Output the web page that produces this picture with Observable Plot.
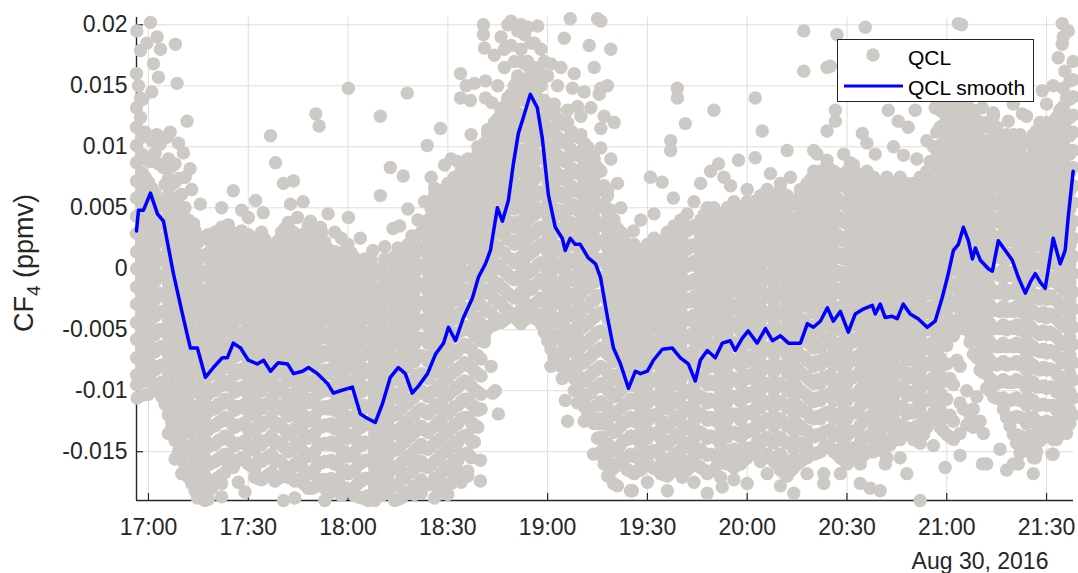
<!DOCTYPE html>
<html>
<head>
<meta charset="utf-8">
<script src="https://cdn.jsdelivr.net/npm/d3@7"></script>
<script src="https://cdn.jsdelivr.net/npm/@observablehq/plot@0.6"></script>
<style>
  html, body { margin: 0; padding: 0; background: #fff; }
  #chart { width: 1078px; height: 573px; }
</style>
</head>
<body>
<div id="chart"></div>
<script>
// CF4 mixing ratio from the QCL instrument, Aug 30, 2016 (values in 0.001 ppmv units)
const dayLabel = "Aug 30, 2016";
const xTickLabels = ["17:00", "17:30", "18:00", "18:30", "19:00", "19:30", "20:00", "20:30", "21:00", "21:30"];
const yTicks = [-0.015, -0.01, -0.005, 0, 0.005, 0.01, 0.015, 0.02];
const timeWindowMinutes = [-3.6, 278.1];   // minutes after 17:00
const valueWindow = [-0.019, 0.0206];       // ppmv

// QCL samples, grouped by minute after 17:00: "minute: v1 v2 ..." (0.001 ppmv)
const qclColumns = [
  "-3.6: 11.6 10.1 8.7 7.2 5.8 4.3 2.9 1.4 0 -1.5 -2.9 -4.4 -5.8 -7.3 -8.7 -9.5",
  "-2: 10.8 9.4 7.9 6.5 5 3.6 2.1 0.7 -0.8 -2.2 -3.7 -5.1 -6.6 -8 -9.3",
  "0: 7.1 5.6 4.2 2.7 1.3 -0.2 -1.6 -3.1 -4.5 -6 -7.4 -8.9",
  "2: 6.2 4.8 3.3 1.9 0.4 -1 -2.5 -3.9 -5.4 -6.8 -8.3 -9.6",
  "4: 5.2 3.7 2.3 0.8 -0.6 -2.1 -3.5 -5 -6.4 -7.9 -9.3 -10.5",
  "6: 9 7.4 6 4.5 3.1 1.6 0.2 -1.3 -2.7 -4.2 -5.6 -7.1 -8.5 -10 -11.4 -12",
  "8: 8.6 7.1 5.3 3.9 2.4 1 -0.5 -1.9 -3.4 -4.8 -6.3 -7.7 -9.2 -10.6 -12.1 -13.5 -14.1",
  "10: 6.1 4.6 3.2 1.7 0.3 -1.2 -2.6 -4.1 -5.5 -7 -8.4 -9.9 -11.3 -12.8 -14.2 -15.5",
  "12: 4 2.5 1.1 -0.4 -1.8 -3.3 -4.7 -6.2 -7.6 -9.1 -10.5 -12 -13.4 -14.9 -16.3 -17.1",
  "14: 3.1 1.8 0.3 -1.1 -2.6 -4 -5.5 -6.9 -8.4 -9.8 -11.3 -12.7 -14.2 -15.6 -17.1 -18.2",
  "16: 2.6 1.1 -0.3 -1.8 -3.2 -4.7 -6.1 -7.6 -9 -10.5 -11.9 -13.4 -14.8 -16.3 -17.7 -18.6",
  "18: 2.8 1.3 -0.1 -1.6 -3 -4.5 -5.9 -7.4 -8.8 -10.3 -11.7 -13.2 -14.6 -16.1 -17.5 -18.9",
  "20: 3 1.6 0.1 -1.3 -2.8 -4.2 -5.7 -7.1 -8.6 -10 -11.5 -12.9 -14.4 -15.8 -17.3",
  "22: 3.4 2 0.5 -0.9 -2.4 -3.8 -5.3 -6.7 -8.2 -9.6 -11.1 -12.5 -14 -15.4 -16.9 -17.6",
  "24: 3.6 2.1 0.7 -0.8 -2.2 -3.7 -5.1 -6.6 -8 -9.5 -10.9 -12.4 -13.8 -15.3 -16.1",
  "26: 2.9 1.5 0 -1.4 -2.9 -4.3 -5.8 -7.2 -8.7 -10.1 -11.6 -13 -14.5 -15.9",
  "28: 3.1 1.7 0.2 -1.2 -2.7 -4.1 -5.6 -7 -8.5 -9.9 -11.4 -12.8 -14.3 -15.5",
  "30: 2.8 1.3 -0.1 -1.6 -3 -4.5 -5.9 -7.4 -8.8 -10.3 -11.7 -13.2 -14.6 -16",
  "32: 2.5 1 -0.4 -1.9 -3.3 -4.8 -6.2 -7.7 -9.1 -10.6 -12 -13.5 -14.9 -16.4 -17.1",
  "34: 3 1.6 0.1 -1.3 -2.8 -4.2 -5.7 -7.1 -8.6 -10 -11.5 -12.9 -14.4 -15.8 -17.3",
  "36: 2 0.5 -0.9 -2.4 -3.8 -5.3 -6.7 -8.2 -9.6 -11.1 -12.5 -14 -15.4 -16.9",
  "38: 1.6 0.2 -1.3 -2.7 -4.2 -5.6 -7.1 -8.5 -10 -11.4 -12.9 -14.3 -15.8 -17.4",
  "40: 3 1.5 0.1 -1.4 -2.8 -4.3 -5.7 -7.2 -8.6 -10.1 -11.5 -13 -14.4 -15.9 -17",
  "42: 3.8 2.4 0.9 -0.5 -2 -3.4 -4.9 -6.3 -7.8 -9.2 -10.7 -12.1 -13.6 -15 -16.5 -17.1",
  "44: 2.9 1.4 0 -1.5 -2.9 -4.4 -5.8 -7.3 -8.7 -10.2 -11.6 -13.1 -14.5 -16 -17.4",
  "46: 2.6 1.2 -0.3 -1.7 -3.2 -4.6 -6.1 -7.5 -9 -10.4 -11.9 -13.3 -14.8 -16.2 -17.5",
  "48: 3.5 2 0.6 -0.9 -2.3 -3.8 -5.2 -6.7 -8.1 -9.6 -11 -12.5 -13.9 -15.4 -16.8 -18",
  "50: 2.4 1 -0.5 -1.9 -3.4 -4.8 -6.3 -7.7 -9.2 -10.6 -12.1 -13.5 -15 -16.4 -17.9",
  "52: 3 1.5 0.1 -1.4 -2.8 -4.3 -5.7 -7.2 -8.6 -10.1 -11.5 -13 -14.4 -15.9 -17.3",
  "54: 1.6 0.1 -1.3 -2.8 -4.2 -5.7 -7.1 -8.6 -10 -11.5 -12.9 -14.4 -15.8 -17.3 -18.5",
  "56: 1.4 0 -1.5 -2.9 -4.4 -5.8 -7.3 -8.7 -10.2 -11.6 -13.1 -14.5 -16 -17.4 -18",
  "58: 1 -0.4 -1.9 -3.3 -4.8 -6.2 -7.7 -9.1 -10.6 -12 -13.5 -14.9 -16.4 -17.8 -18.6",
  "60: 2 0.6 -0.9 -2.3 -3.8 -5.2 -6.7 -8.1 -9.6 -11 -12.5 -13.9 -15.4 -16.8 -18.1",
  "62: 0.9 -0.5 -2 -3.4 -4.9 -6.3 -7.8 -9.2 -10.7 -12.1 -13.6 -15 -16.5 -17.9 -18.6",
  "64: 0 -1.4 -2.9 -4.3 -5.8 -7.2 -8.7 -10.1 -11.6 -13 -14.5 -15.9 -17.4 -18.8",
  "66: 0.2 -1.2 -2.7 -4.1 -5.6 -7 -8.5 -9.9 -11.4 -12.8 -14.3 -15.7 -17.2 -18.6 -19",
  "68: -0.5 -1.9 -3.4 -4.8 -6.3 -7.7 -9.2 -10.6 -12.1 -13.5 -15 -16.4 -17.9 -19",
  "70: 0 -1.5 -2.9 -4.4 -5.8 -7.3 -8.7 -10.2 -11.6 -13.1 -14.5 -16 -17.4 -18.6",
  "72: 0.5 -0.9 -2.4 -3.8 -5.3 -6.7 -8.2 -9.6 -11.1 -12.5 -14 -15.4 -16.9 -18.3",
  "74: 1 -0.4 -1.9 -3.3 -4.8 -6.2 -7.7 -9.1 -10.6 -12 -13.5 -14.9 -16.4 -17.8 -19",
  "76: 1.5 0.1 -1.4 -2.8 -4.3 -5.7 -7.2 -8.6 -10.1 -11.5 -13 -14.4 -15.9 -17.3 -18.8",
  "78: 2 0.6 -0.9 -2.3 -3.8 -5.2 -6.7 -8.1 -9.6 -11 -12.5 -13.9 -15.4 -16.8 -18.3",
  "80: 2.5 1.1 -0.4 -1.8 -3.3 -4.7 -6.2 -7.6 -9.1 -10.5 -12 -13.4 -14.9 -16.3 -17.8 -18.5",
  "82: 3 1.6 0.1 -1.3 -2.8 -4.2 -5.7 -7.1 -8.6 -10 -11.5 -12.9 -14.4 -15.8 -17.3 -18.4",
  "84: 4 2.6 1.1 -0.3 -1.8 -3.2 -4.7 -6.1 -7.6 -9 -10.5 -11.9 -13.4 -14.8 -16.3 -17.7",
  "86: 6 4.5 3.1 1.6 0.2 -1.3 -2.7 -4.2 -5.6 -7.1 -8.5 -10 -11.4 -12.9 -14.3 -15.8 -17.2 -18.8",
  "88: 6.4 5 3.5 2.1 0.6 -0.8 -2.3 -3.7 -5.2 -6.6 -8.1 -9.5 -11 -12.4 -13.9 -15.3 -16.8 -18",
  "90: 7 5.5 4.1 2.6 1.2 -0.3 -1.7 -3.2 -4.6 -6.1 -7.5 -9 -10.4 -11.9 -13.3 -14.8 -16.2 -17.7 -18.5",
  "92: 7.5 6.1 4.6 3.2 1.7 0.3 -1.2 -2.6 -4.1 -5.5 -7 -8.4 -9.9 -11.3 -12.8 -14.2 -15.7 -17.1",
  "94: 8 6.5 5.1 3.6 2.2 0.7 -0.7 -2.2 -3.6 -5.1 -6.5 -8 -9.4 -10.9 -12.3 -13.8 -15.2 -16.7 -17.5",
  "96: 8.1 6.7 5.2 3.8 2.3 0.9 -0.6 -2 -3.5 -4.9 -6.4 -7.8 -9.3 -10.7 -12.2 -13.6 -15.1 -16.6 -17",
  "98: 9 7.5 6.1 4.6 3.2 1.7 0.3 -1.2 -2.6 -4.1 -5.5 -7 -8.4 -9.9 -11.3 -12.8 -14.2",
  "100: 10 8.6 7.1 5.7 4.2 2.8 1.3 -0.1 -1.6 -3 -4.5 -5.9 -7.4 -8.8 -10.3 -11.5",
  "102: 11 9.6 8.1 6.7 5.2 3.8 2.3 0.9 -0.6 -2 -3.5 -4.9",
  "104: 12 10.5 9.1 7.6 6.2 4.7 3.3 1.8 0.4 -1.1 -2.5 -4 -4.6",
  "106: 13 11.6 10.1 8.7 7.2 5.8 4.3 2.9 1.4 0 -1.5 -2.9 -4.4",
  "108: 14 12.5 11.1 9.6 8.2 6.7 5.3 3.8 2.4 0.9 -0.5 -2 -3.4 -4",
  "110: 15 13.6 12.1 10.7 9.2 7.8 6.3 4.9 3.4 2 0.5 -0.9 -2.4 -3.8",
  "112: 17 15.5 14.1 12.6 11.2 9.7 8.3 6.8 5.4 3.9 2.5 1 -0.4 -1.9 -3.3 -4.5",
  "114: 17 15.6 14.1 12.7 11.2 9.8 8.3 6.9 5.4 4 2.5 1.1 -0.4 -1.8 -3.3 -4",
  "116: 16 14.5 13.1 11.6 10.2 8.7 7.3 5.8 4.4 2.9 1.5 0 -1.4 -2.9 -4",
  "118: 15 13.6 12.1 10.7 9.2 7.8 6.3 4.9 3.4 2 0.5 -0.9 -2.4 -3.8 -4.5",
  "120: 13 11.5 10.1 8.6 7.2 5.7 4.3 2.8 1.4 -0.1 -1.5 -3 -4.4 -5.9",
  "122: 13 11.6 10.1 8.7 7.2 5.8 4.3 2.9 1.4 0 -1.5 -2.9 -4.4 -5.8 -7.3",
  "124: 12 10.5 9.1 7.6 6.2 4.7 3.3 1.8 0.4 -1.1 -2.5 -4 -5.4 -6.9 -8",
  "126: 12 10.6 9.1 7.7 6.2 4.8 3.3 1.9 0.4 -1 -2.5 -3.9 -5.4 -6.8 -8",
  "128: 11 9.5 8.1 6.6 5.2 3.7 2.3 0.8 -0.6 -2.1 -3.5 -5 -6.4 -7.9 -9",
  "130: 11 9.6 8.1 6.7 5.2 3.8 2.3 0.9 -0.6 -2 -3.5 -4.9 -6.4 -7.8 -9.3 -10.8",
  "132: 10 8.5 7.1 5.6 4.2 2.7 1.3 -0.2 -1.6 -3.1 -4.5 -6 -7.4 -8.9 -10.3 -11.8",
  "134: 9 7.6 6.1 4.7 3.2 1.8 0.3 -1.1 -2.6 -4 -5.5 -6.9 -8.4 -9.8 -11.3 -12.7",
  "136: 8 6.5 5.1 3.6 2.2 0.7 -0.7 -2.2 -3.6 -5.1 -6.5 -8 -9.4 -10.9 -12.3 -13.8 -15",
  "138: 6 4.6 3.1 1.7 0.2 -1.2 -2.7 -4.1 -5.6 -7 -8.5 -9.9 -11.4 -12.8 -14.3 -15.7 -17",
  "140: 4 2.5 1.1 -0.4 -1.8 -3.3 -4.7 -6.2 -7.6 -9.1 -10.5 -12 -13.4 -14.9 -16.3",
  "142: 3 1.6 0.1 -1.3 -2.8 -4.2 -5.7 -7.1 -8.6 -10 -11.5 -12.9 -14.4 -15.8",
  "144: 2 0.5 -0.9 -2.4 -3.8 -5.3 -6.7 -8.2 -9.6 -11.1 -12.5 -14 -15.4 -16.5",
  "146: 2 0.6 -0.9 -2.3 -3.8 -5.2 -6.7 -8.1 -9.6 -11 -12.5 -13.9 -15.4 -16.8",
  "148: 1.5 0 -1.4 -2.9 -4.3 -5.8 -7.2 -8.7 -10.1 -11.6 -13 -14.5 -15.9 -16.5",
  "150: 2 0.6 -0.9 -2.3 -3.8 -5.2 -6.7 -8.1 -9.6 -11 -12.5 -13.9 -15.4 -16",
  "152: 2.5 1 -0.4 -1.9 -3.3 -4.8 -6.2 -7.7 -9.1 -10.6 -12 -13.5 -14.9 -16.4",
  "154: 2 0.6 -0.9 -2.3 -3.8 -5.2 -6.7 -8.1 -9.6 -11 -12.5 -13.9 -15.4 -16.8",
  "156: 3 1.5 0.1 -1.4 -2.8 -4.3 -5.7 -7.2 -8.6 -10.1 -11.5 -13 -14.4 -15.9 -17",
  "158: 3.5 2.1 0.6 -0.8 -2.3 -3.7 -5.2 -6.6 -8.1 -9.5 -11 -12.4 -13.9 -15.3 -16.5",
  "160: 4 2.5 1.1 -0.4 -1.8 -3.3 -4.7 -6.2 -7.6 -9.1 -10.5 -12 -13.4 -14.9 -16",
  "162: 4.5 3.1 1.6 0.2 -1.3 -2.7 -4.2 -5.6 -7.1 -8.5 -10 -11.4 -12.9 -14.3 -15.8 -16.5",
  "164: 3.5 2 0.6 -0.9 -2.3 -3.8 -5.2 -6.7 -8.1 -9.6 -11 -12.5 -13.9 -15.4 -16",
  "166: 4 2.6 1.1 -0.3 -1.8 -3.2 -4.7 -6.1 -7.6 -9 -10.5 -11.9 -13.4 -14.8 -16.3",
  "168: 5 3.5 2.1 0.6 -0.8 -2.3 -3.7 -5.2 -6.6 -8.1 -9.5 -11 -12.4 -13.9 -15.3 -16.8",
  "170: 5 3.6 2.1 0.7 -0.8 -2.2 -3.7 -5.1 -6.6 -8 -9.5 -10.9 -12.4 -13.8 -15.3 -16.5",
  "172: 4.5 3 1.6 0.1 -1.3 -2.8 -4.2 -5.7 -7.1 -8.6 -10 -11.5 -12.9 -14.4 -15.8",
  "174: 5 3.6 2.1 0.7 -0.8 -2.2 -3.7 -5.1 -6.6 -8 -9.5 -10.9 -12.4 -13.8 -15.3 -16",
  "176: 5.5 4 2.6 1.1 -0.3 -1.8 -3.2 -4.7 -6.1 -7.6 -9 -10.5 -11.9 -13.4 -14.8 -16.3",
  "178: 5 3.6 2.1 0.7 -0.8 -2.2 -3.7 -5.1 -6.6 -8 -9.5 -10.9 -12.4 -13.8 -15.3 -16",
  "180: 5.5 4 2.6 1.1 -0.3 -1.8 -3.2 -4.7 -6.1 -7.6 -9 -10.5 -11.9 -13.4 -14.8 -15.5",
  "182: 5.5 4.1 2.6 1.2 -0.3 -1.7 -3.2 -4.6 -6.1 -7.5 -9 -10.4 -11.9 -13.3 -14.8",
  "184: 6 4.5 3.1 1.6 0.2 -1.3 -2.7 -4.2 -5.6 -7.1 -8.5 -10 -11.4 -12.9 -14.3 -15.8",
  "186: 6.5 5.1 3.6 2.2 0.7 -0.7 -2.2 -3.6 -5.1 -6.5 -8 -9.4 -10.9 -12.3 -13.8 -15.2",
  "188: 6 4.5 3.1 1.6 0.2 -1.3 -2.7 -4.2 -5.6 -7.1 -8.5 -10 -11.4 -12.9 -14.3 -15.8",
  "190: 6.5 5.1 3.6 2.2 0.7 -0.7 -2.2 -3.6 -5.1 -6.5 -8 -9.4 -10.9 -12.3 -13.8 -15.2 -16.5",
  "192: 6 4.5 3.1 1.6 0.2 -1.3 -2.7 -4.2 -5.6 -7.1 -8.5 -10 -11.4 -12.9 -14.3 -15.8 -17",
  "194: 5.5 4.1 2.6 1.2 -0.3 -1.7 -3.2 -4.6 -6.1 -7.5 -9 -10.4 -11.9 -13.3 -14.8 -16.3",
  "196: 6 4.5 3.1 1.6 0.2 -1.3 -2.7 -4.2 -5.6 -7.1 -8.5 -10 -11.4 -12.9 -14.3 -15.8",
  "198: 7 5.6 4.1 2.7 1.2 -0.2 -1.7 -3.1 -4.6 -6 -7.5 -8.9 -10.4 -11.8 -13.3 -14.7 -15.5",
  "200: 8 6.5 5.1 3.6 2.2 0.7 -0.7 -2.2 -3.6 -5.1 -6.5 -8 -9.4 -10.9 -12.3 -13.8 -15.2",
  "202: 8 6.6 5.1 3.7 2.2 0.8 -0.7 -2.1 -3.6 -5 -6.5 -7.9 -9.4 -10.8 -12.3 -13.7 -15",
  "204: 8.5 7 5.6 4.1 2.7 1.2 -0.2 -1.7 -3.1 -4.6 -6 -7.5 -8.9 -10.4 -11.8 -13.3 -14.5",
  "206: 8 6.6 5.1 3.7 2.2 0.8 -0.7 -2.1 -3.6 -5 -6.5 -7.9 -9.4 -10.8 -12.3 -13.7 -15",
  "208: 7 5.5 4.1 2.6 1.2 -0.3 -1.7 -3.2 -4.6 -6.1 -7.5 -9 -10.4 -11.9 -13.3 -14.8 -15.5",
  "210: 8 6.6 5.1 3.7 2.2 0.8 -0.7 -2.1 -3.6 -5 -6.5 -7.9 -9.4 -10.8 -12.3 -13.7 -15.2 -16",
  "212: 8.5 7 5.6 4.1 2.7 1.2 -0.2 -1.7 -3.1 -4.6 -6 -7.5 -8.9 -10.4 -11.8 -13.3 -14.7 -15.5",
  "214: 7.5 6.1 4.6 3.2 1.7 0.3 -1.2 -2.6 -4.1 -5.5 -7 -8.4 -9.9 -11.3 -12.8 -14.2 -15.7 -16",
  "216: 8 6.5 5.1 3.6 2.2 0.7 -0.7 -2.2 -3.6 -5.1 -6.5 -8 -9.4 -10.9 -12.3 -13.8 -15",
  "218: 7.5 6.1 4.6 3.2 1.7 0.3 -1.2 -2.6 -4.1 -5.5 -7 -8.4 -9.9 -11.3 -12.8 -14.2 -15",
  "220: 7 5.5 4.1 2.6 1.2 -0.3 -1.7 -3.2 -4.6 -6.1 -7.5 -9 -10.4 -11.9 -13.3 -14.5",
  "222: 7.5 6.1 4.6 3.2 1.7 0.3 -1.2 -2.6 -4.1 -5.5 -7 -8.4 -9.9 -11.3 -12.8 -14.2 -15.5",
  "224: 7 5.5 4.1 2.6 1.2 -0.3 -1.7 -3.2 -4.6 -6.1 -7.5 -9 -10.4 -11.9 -13.3 -14",
  "226: 7.5 6.1 4.6 3.2 1.7 0.3 -1.2 -2.6 -4.1 -5.5 -7 -8.4 -9.9 -11.3 -12.8 -14",
  "228: 7 5.5 4.1 2.6 1.2 -0.3 -1.7 -3.2 -4.6 -6.1 -7.5 -9 -10.4 -11.9 -13.3",
  "230: 7 5.6 4.1 2.7 1.2 -0.2 -1.7 -3.1 -4.6 -6 -7.5 -8.9 -10.4 -11.8 -13.3 -14",
  "232: 7.5 6 4.6 3.1 1.7 0.2 -1.2 -2.7 -4.1 -5.6 -7 -8.5 -9.9 -11.4 -12.8 -14.3",
  "234: 8 6.6 5.1 3.7 2.2 0.8 -0.7 -2.1 -3.6 -5 -6.5 -7.9 -9.4 -10.8 -12.3 -13",
  "236: 10 8.5 7.1 5.6 4.2 2.7 1.3 -0.2 -1.6 -3.1 -4.5 -6 -7.4 -8.9 -10.3 -11.8",
  "238: 13 11.6 10.1 8.7 7.2 5.8 4.3 2.9 1.4 0 -1.5 -2.9 -4.4 -5.8 -7.3 -8.7 -10.2 -11.6 -13",
  "240: 14 12.5 11.1 9.6 8.2 6.7 5.3 3.8 2.4 0.9 -0.5 -2 -3.4 -4.9 -6.3 -7.8 -9.2 -10.7 -12.1 -13.6",
  "242: 14.5 13.1 11.6 10.2 8.7 7.3 5.8 4.4 2.9 1.5 0 -1.4 -2.9 -4.3 -5.5 -9.5 -12.5 -14",
  "244: 14 12.5 11.1 9.6 8.2 6.7 5.3 3.8 2.4 0.9 -0.5 -2 -3.4 -4.9 -8 -11 -13.5",
  "246: 13.5 12.1 10.6 9.2 7.7 6.3 4.8 3.4 1.9 0.5 -1 -2.4 -3.9 -5 -10 -12.8",
  "248: 13 11.5 10.1 8.6 7.2 5.7 4.3 2.8 1.4 -0.1 -1.5 -3 -4.4 -5.9 -7 -11.5 -13",
  "250: 12 10.6 9.1 7.7 6.2 4.8 3.3 1.9 0.4 -1 -2.5 -3.9 -5.4 -6.8 -8.3 -12.5",
  "252: 12 10.5 9.1 7.6 6.2 4.7 3.3 1.8 0.4 -1.1 -2.5 -4 -5.4 -6.9 -8.3 -9.8 -16",
  "254: 12.5 11.1 9.6 8.2 6.7 5.3 3.8 2.4 0.9 -0.5 -2 -3.4 -4.9 -6.3 -7.8 -9.2 -10.5",
  "256: 11 9.6 8.1 6.7 5.2 3.8 2.3 0.9 -0.6 -2 -3.5 -4.9 -6.4 -7.8 -9.3 -10.7",
  "258: 11 9.5 8.1 6.6 5.2 3.7 2.3 0.8 -0.6 -2.1 -3.5 -5 -6.4 -7.9 -9.3 -10.8 -12.2",
  "260: 11 9.6 8.1 6.7 5.2 3.8 2.3 0.9 -0.6 -2 -3.5 -4.9 -6.4 -7.8 -9.3 -10.7 -12.2 -13.6 -16",
  "262: 11 9.5 8.1 6.6 5.2 3.7 2.3 0.8 -0.6 -2.1 -3.5 -5 -6.4 -7.9 -9.3 -10.8 -12.2 -13.7 -15.1",
  "264: 10.5 9.1 7.6 6.2 4.7 3.3 1.8 0.4 -1.1 -2.5 -4 -5.4 -6.9 -8.3 -9.8 -11.2 -12.7 -14.1",
  "266: 11 9.5 8.1 6.6 5.2 3.7 2.3 0.8 -0.6 -2.1 -3.5 -5 -6.4 -7.9 -9.3 -10.8 -12.2 -13.7 -15.5 -16.8",
  "268: 12 10.6 9.1 7.7 6.2 4.8 3.3 1.9 0.4 -1 -2.5 -3.9 -5.4 -6.8 -8.3 -9.7 -11.2 -12.6 -14.1",
  "270: 12 10.5 9.1 7.6 6.2 4.7 3.3 1.8 0.4 -1.1 -2.5 -4 -5.4 -6.9 -8.3 -9.8 -11.2 -12.5",
  "272: 12 10.6 9.1 7.7 6.2 4.8 3.3 1.9 0.4 -1 -2.5 -3.9 -5.4 -6.8 -8.3 -9.7 -11.2 -12.6 -14 -15.2",
  "274: 13 11.5 10.1 8.6 7.2 5.7 4.3 2.8 1.4 -0.1 -1.5 -3 -4.4 -5.9 -7.3 -8.8 -10.2 -11.7 -13.1",
  "276: 14 12.6 11.1 9.7 8.2 6.8 5.3 3.9 2.4 1 -0.5 -1.9 -3.4 -4.8 -6.3 -7.7 -9.2 -10.6 -12.1 -13.5",
  "278: 17 15.5 14.1 12.6 11.2 9.7 8.3 6.8 5.4 3.9 2.5 1 -0.4 -1.9 -3.3 -4.8 -6.2 -7.7 -9.1 -10.6 -12",
  "-1: 9 7.5 6 4.5 3 1.5 0 -1.5 -3 -4.5 -6 -7.5 -9.2",
  "1: 6.6 5.1 3.6 2.1 0.6 -0.9 -2.4 -3.9 -5.4 -6.9 -8.4 -9.3",
  "3: 5.5 4 2.5 1 -0.5 -2 -3.5 -5 -6.5 -8 -9.5 -10",
  "5: 6.9 5.4 3.9 2.4 0.9 -0.6 -2.1 -3.6 -5.1 -6.6 -8.1 -9.6 -11.1",
  "7: 8.4 6.9 5.4 3.9 2.4 0.9 -0.6 -2.1 -3.6 -5.1 -6.6 -8.1 -9.6 -11.1 -12.6 -13.1",
  "9: 7.4 5.9 4.4 2.9 1.4 -0.1 -1.6 -3.1 -4.6 -6.1 -7.6 -9.1 -10.6 -12.1 -13.6 -15",
  "11: 5 3.5 2 0.5 -1 -2.5 -4 -5.5 -7 -8.5 -10 -11.5 -13 -14.5 -16.1",
  "13: 3.4 1.9 0.4 -1.1 -2.6 -4.1 -5.6 -7.1 -8.6 -10.1 -11.6 -13.1 -14.6 -16.1 -17.6",
  "15: 2.2 0.7 -0.8 -2.3 -3.8 -5.3 -6.8 -8.3 -9.8 -11.3 -12.8 -14.3 -15.8 -17.3 -18.4",
  "17: 2.5 1 -0.5 -2 -3.5 -5 -6.5 -8 -9.5 -11 -12.5 -14 -15.5 -17 -18.5",
  "19: 2.1 0.6 -0.9 -2.4 -3.9 -5.4 -6.9 -8.4 -9.9 -11.4 -12.9 -14.4 -15.9 -17.4 -18",
  "21: 2.4 0.9 -0.6 -2.1 -3.6 -5.1 -6.6 -8.1 -9.6 -11.1 -12.6 -14.1 -15.6 -17.1",
  "23: 2.8 1.3 -0.2 -1.7 -3.2 -4.7 -6.2 -7.7 -9.2 -10.7 -12.2 -13.7 -15.2 -16.7",
  "25: 2.3 0.8 -0.7 -2.2 -3.7 -5.2 -6.7 -8.2 -9.7 -11.2 -12.7 -14.2 -15.7",
  "27: 2.2 0.7 -0.8 -2.3 -3.8 -5.3 -6.8 -8.3 -9.8 -11.3 -12.8 -14.3 -15.7",
  "29: 2.4 0.9 -0.6 -2.1 -3.6 -5.1 -6.6 -8.1 -9.6 -11.1 -12.6 -14.1 -15.6",
  "31: 1.8 0.3 -1.2 -2.7 -4.2 -5.7 -7.2 -8.7 -10.2 -11.7 -13.2 -14.7 -16.2",
  "33: 2.2 0.7 -0.8 -2.3 -3.8 -5.3 -6.8 -8.3 -9.8 -11.3 -12.8 -14.3 -15.8 -17.2",
  "35: 2.4 0.9 -0.6 -2.1 -3.6 -5.1 -6.6 -8.1 -9.6 -11.1 -12.6 -14.1 -15.6 -17.1",
  "37: 1.3 -0.2 -1.7 -3.2 -4.7 -6.2 -7.7 -9.2 -10.7 -12.2 -13.7 -15.2 -16.7",
  "39: 2.3 0.8 -0.7 -2.2 -3.7 -5.2 -6.7 -8.2 -9.7 -11.2 -12.7 -14.2 -15.7 -17.2",
  "41: 3.3 1.8 0.3 -1.2 -2.7 -4.2 -5.7 -7.2 -8.7 -10.2 -11.7 -13.2 -14.7 -16.2 -17",
  "43: 3.1 1.6 0.1 -1.4 -2.9 -4.4 -5.9 -7.4 -8.9 -10.4 -11.9 -13.4 -14.9 -16.4",
  "45: 2.2 0.7 -0.8 -2.3 -3.8 -5.3 -6.8 -8.3 -9.8 -11.3 -12.8 -14.3 -15.8 -17.3",
  "47: 2.9 1.4 -0.1 -1.6 -3.1 -4.6 -6.1 -7.6 -9.1 -10.6 -12.1 -13.6 -15.1 -16.6 -17.7",
  "49: 2.8 1.3 -0.2 -1.7 -3.2 -4.7 -6.2 -7.7 -9.2 -10.7 -12.2 -13.7 -15.2 -16.7 -18",
  "51: 2 0.5 -1 -2.5 -4 -5.5 -7 -8.5 -10 -11.5 -13 -14.5 -16 -17.5",
  "53: 2.2 0.7 -0.8 -2.3 -3.8 -5.3 -6.8 -8.3 -9.8 -11.3 -12.8 -14.3 -15.8 -17.3 -18",
  "55: 0.8 -0.7 -2.2 -3.7 -5.2 -6.7 -8.2 -9.7 -11.2 -12.7 -14.2 -15.7 -17.2 -18.2",
  "57: 0.7 -0.8 -2.3 -3.8 -5.3 -6.8 -8.3 -9.8 -11.3 -12.8 -14.3 -15.8 -17.3 -18.3",
  "59: 1.5 0 -1.5 -3 -4.5 -6 -7.5 -9 -10.5 -12 -13.5 -15 -16.5 -18",
  "61: 1.3 -0.2 -1.7 -3.2 -4.7 -6.2 -7.7 -9.2 -10.7 -12.2 -13.7 -15.2 -16.7 -18.2",
  "63: 0.4 -1.1 -2.6 -4.1 -5.6 -7.1 -8.6 -10.1 -11.6 -13.1 -14.6 -16.1 -17.6 -18.7",
  "65: -0.7 -2.2 -3.7 -5.2 -6.7 -8.2 -9.7 -11.2 -12.7 -14.2 -15.7 -17.2 -18.7",
  "67: 0.7 -0.8 -2.3 -3.8 -5.3 -6.8 -8.3 -9.8 -11.3 -12.8 -14.3 -15.8 -17.3 -18.8",
  "69: -0.2 -1.7 -3.2 -4.7 -6.2 -7.7 -9.2 -10.7 -12.2 -13.7 -15.2 -16.7 -18.2",
  "71: 0.8 -0.7 -2.2 -3.7 -5.2 -6.7 -8.2 -9.7 -11.2 -12.7 -14.2 -15.7 -17.2 -18.4",
  "73: 0.3 -1.2 -2.7 -4.2 -5.7 -7.2 -8.7 -10.2 -11.7 -13.2 -14.7 -16.2 -17.7",
  "75: 1.7 0.2 -1.3 -2.8 -4.3 -5.8 -7.3 -8.8 -10.3 -11.8 -13.3 -14.8 -16.3 -17.8 -18.9",
  "77: 0.8 -0.7 -2.2 -3.7 -5.2 -6.7 -8.2 -9.7 -11.2 -12.7 -14.2 -15.7 -17.2 -18.5",
  "79: 1.3 -0.2 -1.7 -3.2 -4.7 -6.2 -7.7 -9.2 -10.7 -12.2 -13.7 -15.2 -16.7 -18.2",
  "81: 1.8 0.3 -1.2 -2.7 -4.2 -5.7 -7.2 -8.7 -10.2 -11.7 -13.2 -14.7 -16.2 -17.7",
  "83: 3.3 1.8 0.3 -1.2 -2.7 -4.2 -5.7 -7.2 -8.7 -10.2 -11.7 -13.2 -14.7 -16.2 -17.7",
  "85: 4.9 3.4 1.9 0.4 -1.1 -2.6 -4.1 -5.6 -7.1 -8.6 -10.1 -11.6 -13.1 -14.6 -16.1 -17.6",
  "87: 5.4 3.9 2.4 0.9 -0.6 -2.1 -3.6 -5.1 -6.6 -8.1 -9.6 -11.1 -12.6 -14.1 -15.6 -17.1 -18.4",
  "89: 6 4.5 3 1.5 0 -1.5 -3 -4.5 -6 -7.5 -9 -10.5 -12 -13.5 -15 -16.5 -18",
  "91: 6.4 4.9 3.4 1.9 0.4 -1.1 -2.6 -4.1 -5.6 -7.1 -8.6 -10.1 -11.6 -13.1 -14.6 -16.1 -17.6",
  "93: 6.8 5.3 3.8 2.3 0.8 -0.7 -2.2 -3.7 -5.2 -6.7 -8.2 -9.7 -11.2 -12.7 -14.2 -15.7 -17.2",
  "95: 7.3 5.8 4.3 2.8 1.3 -0.2 -1.7 -3.2 -4.7 -6.2 -7.7 -9.2 -10.7 -12.2 -13.7 -15.2 -16.7",
  "97: 8.4 6.9 5.4 3.9 2.4 0.9 -0.6 -2.1 -3.6 -5.1 -6.6 -8.1 -9.6 -11.1 -12.6 -14.1 -15.5",
  "99: 9.4 7.9 6.4 4.9 3.4 1.9 0.4 -1.1 -2.6 -4.1 -5.6 -7.1 -8.6 -10.1 -11.6 -13",
  "101: 10.3 8.8 7.3 5.8 4.3 2.8 1.3 -0.2 -1.7 -3.2 -4.7 -5.5",
  "103: 11.4 9.9 8.4 6.9 5.4 3.9 2.4 0.9 -0.6 -2.1 -3.6 -4.7",
  "105: 12.3 10.8 9.3 7.8 6.3 4.8 3.3 1.8 0.3 -1.2 -2.7 -4.2",
  "107: 13.3 11.8 10.3 8.8 7.3 5.8 4.3 2.8 1.3 -0.2 -1.7 -3.2 -4.2",
  "109: 14.3 12.8 11.3 9.8 8.3 6.8 5.3 3.8 2.3 0.8 -0.7 -2.2 -3.7",
  "111: 15.8 14.3 12.8 11.3 9.8 8.3 6.8 5.3 3.8 2.3 0.8 -0.7 -2.2 -3.7 -4.2",
  "113: 16.8 15.3 13.8 12.3 10.8 9.3 7.8 6.3 4.8 3.3 1.8 0.3 -1.2 -2.7 -4.2",
  "115: 16.3 14.8 13.3 11.8 10.3 8.8 7.3 5.8 4.3 2.8 1.3 -0.2 -1.7 -3.2 -4",
  "117: 15.3 13.8 12.3 10.8 9.3 7.8 6.3 4.8 3.3 1.8 0.3 -1.2 -2.7 -4.2",
  "119: 13.8 12.3 10.8 9.3 7.8 6.3 4.8 3.3 1.8 0.3 -1.2 -2.7 -4.2 -5.2",
  "121: 12.8 11.3 9.8 8.3 6.8 5.3 3.8 2.3 0.8 -0.7 -2.2 -3.7 -5.2 -6.6",
  "123: 12.3 10.8 9.3 7.8 6.3 4.8 3.3 1.8 0.3 -1.2 -2.7 -4.2 -5.7 -7.2 -7.6",
  "125: 11.8 10.3 8.8 7.3 5.8 4.3 2.8 1.3 -0.2 -1.7 -3.2 -4.7 -6.2 -7.7 -8",
  "127: 11.3 9.8 8.3 6.8 5.3 3.8 2.3 0.8 -0.7 -2.2 -3.7 -5.2 -6.7 -8.2 -8.5",
  "129: 10.8 9.3 7.8 6.3 4.8 3.3 1.8 0.3 -1.2 -2.7 -4.2 -5.7 -7.2 -8.7 -9.9",
  "131: 10.3 8.8 7.3 5.8 4.3 2.8 1.3 -0.2 -1.7 -3.2 -4.7 -6.2 -7.7 -9.2 -10.7 -11.3",
  "133: 9.3 7.8 6.3 4.8 3.3 1.8 0.3 -1.2 -2.7 -4.2 -5.7 -7.2 -8.7 -10.2 -11.7 -12.2",
  "135: 8.3 6.8 5.3 3.8 2.3 0.8 -0.7 -2.2 -3.7 -5.2 -6.7 -8.2 -9.7 -11.2 -12.7 -13.9",
  "137: 6.8 5.3 3.8 2.3 0.8 -0.7 -2.2 -3.7 -5.2 -6.7 -8.2 -9.7 -11.2 -12.7 -14.2 -15.7 -16",
  "139: 4.8 3.3 1.8 0.3 -1.2 -2.7 -4.2 -5.7 -7.2 -8.7 -10.2 -11.7 -13.2 -14.7 -16.2 -16.6",
  "141: 3.3 1.8 0.3 -1.2 -2.7 -4.2 -5.7 -7.2 -8.7 -10.2 -11.7 -13.2 -14.7 -16",
  "143: 2.4 0.9 -0.6 -2.1 -3.6 -5.1 -6.6 -8.1 -9.6 -11.1 -12.6 -14.1 -15.6 -16.2",
  "145: 1.3 -0.2 -1.7 -3.2 -4.7 -6.2 -7.7 -9.2 -10.7 -12.2 -13.7 -15.2 -16.6",
  "147: 1.2 -0.3 -1.8 -3.3 -4.8 -6.3 -7.8 -9.3 -10.8 -12.3 -13.8 -15.3 -16.6",
  "149: 1.1 -0.4 -1.9 -3.4 -4.9 -6.4 -7.9 -9.4 -10.9 -12.4 -13.9 -15.4 -16.2",
  "151: 1.5 0 -1.5 -3 -4.5 -6 -7.5 -9 -10.5 -12 -13.5 -15 -16.2",
  "153: 1.6 0.1 -1.4 -2.9 -4.4 -5.9 -7.4 -8.9 -10.4 -11.9 -13.4 -14.9 -16.4",
  "155: 2.4 0.9 -0.6 -2.1 -3.6 -5.1 -6.6 -8.1 -9.6 -11.1 -12.6 -14.1 -15.6 -16.9",
  "157: 2.4 0.9 -0.6 -2.1 -3.6 -5.1 -6.6 -8.1 -9.6 -11.1 -12.6 -14.1 -15.6 -16.7",
  "159: 2.9 1.4 -0.1 -1.6 -3.1 -4.6 -6.1 -7.6 -9.1 -10.6 -12.1 -13.6 -15.1 -16.2",
  "161: 3.6 2.1 0.6 -0.9 -2.4 -3.9 -5.4 -6.9 -8.4 -9.9 -11.4 -12.9 -14.4 -15.9",
  "163: 3.3 1.8 0.3 -1.2 -2.7 -4.2 -5.7 -7.2 -8.7 -10.2 -11.7 -13.2 -14.7 -16.2",
  "165: 3.2 1.7 0.2 -1.3 -2.8 -4.3 -5.8 -7.3 -8.8 -10.3 -11.8 -13.3 -14.8 -16.1",
  "167: 4.4 2.9 1.4 -0.1 -1.6 -3.1 -4.6 -6.1 -7.6 -9.1 -10.6 -12.1 -13.6 -15.1 -16.5",
  "169: 4.3 2.8 1.3 -0.2 -1.7 -3.2 -4.7 -6.2 -7.7 -9.2 -10.7 -12.2 -13.7 -15.2 -16.6",
  "171: 4 2.5 1 -0.5 -2 -3.5 -5 -6.5 -8 -9.5 -11 -12.5 -14 -15.5 -16.1",
  "173: 4.2 2.7 1.2 -0.3 -1.8 -3.3 -4.8 -6.3 -7.8 -9.3 -10.8 -12.3 -13.8 -15.3 -15.9",
  "175: 4.6 3.1 1.6 0.1 -1.4 -2.9 -4.4 -5.9 -7.4 -8.9 -10.4 -11.9 -13.4 -14.9 -16.1",
  "177: 4.4 2.9 1.4 -0.1 -1.6 -3.1 -4.6 -6.1 -7.6 -9.1 -10.6 -12.1 -13.6 -15.1 -16.1",
  "179: 4.8 3.3 1.8 0.3 -1.2 -2.7 -4.2 -5.7 -7.2 -8.7 -10.2 -11.7 -13.2 -14.7 -15.7",
  "181: 4.8 3.3 1.8 0.3 -1.2 -2.7 -4.2 -5.7 -7.2 -8.7 -10.2 -11.7 -13.2 -14.7",
  "183: 5.3 3.8 2.3 0.8 -0.7 -2.2 -3.7 -5.2 -6.7 -8.2 -9.7 -11.2 -12.7 -14.2 -15.3",
  "185: 5.5 4 2.5 1 -0.5 -2 -3.5 -5 -6.5 -8 -9.5 -11 -12.5 -14 -15.5",
  "187: 5.4 3.9 2.4 0.9 -0.6 -2.1 -3.6 -5.1 -6.6 -8.1 -9.6 -11.1 -12.6 -14.1 -15.5",
  "189: 5.6 4.1 2.6 1.1 -0.4 -1.9 -3.4 -4.9 -6.4 -7.9 -9.4 -10.9 -12.4 -13.9 -15.4 -16.1",
  "191: 5.4 3.9 2.4 0.9 -0.6 -2.1 -3.6 -5.1 -6.6 -8.1 -9.6 -11.1 -12.6 -14.1 -15.6 -16.7",
  "193: 5.2 3.7 2.2 0.7 -0.8 -2.3 -3.8 -5.3 -6.8 -8.3 -9.8 -11.3 -12.8 -14.3 -15.8 -16.6",
  "195: 5.3 3.8 2.3 0.8 -0.7 -2.2 -3.7 -5.2 -6.7 -8.2 -9.7 -11.2 -12.7 -14.2 -15.7 -16",
  "197: 6.3 4.8 3.3 1.8 0.3 -1.2 -2.7 -4.2 -5.7 -7.2 -8.7 -10.2 -11.7 -13.2 -14.7 -15.6",
  "199: 7.3 5.8 4.3 2.8 1.3 -0.2 -1.7 -3.2 -4.7 -6.2 -7.7 -9.2 -10.7 -12.2 -13.7 -15.2",
  "201: 7.4 5.9 4.4 2.9 1.4 -0.1 -1.6 -3.1 -4.6 -6.1 -7.6 -9.1 -10.6 -12.1 -13.6 -15.1",
  "203: 7.6 6.1 4.6 3.1 1.6 0.1 -1.4 -2.9 -4.4 -5.9 -7.4 -8.9 -10.4 -11.9 -13.4 -14.7",
  "205: 7.8 6.3 4.8 3.3 1.8 0.3 -1.2 -2.7 -4.2 -5.7 -7.2 -8.7 -10.2 -11.7 -13.2 -14.7",
  "207: 7.3 5.8 4.3 2.8 1.3 -0.2 -1.7 -3.2 -4.7 -6.2 -7.7 -9.2 -10.7 -12.2 -13.7 -15.2",
  "209: 6.8 5.3 3.8 2.3 0.8 -0.7 -2.2 -3.7 -5.2 -6.7 -8.2 -9.7 -11.2 -12.7 -14.2 -15.7",
  "211: 7.6 6.1 4.6 3.1 1.6 0.1 -1.4 -2.9 -4.4 -5.9 -7.4 -8.9 -10.4 -11.9 -13.4 -14.9 -15.7",
  "213: 7.8 6.3 4.8 3.3 1.8 0.3 -1.2 -2.7 -4.2 -5.7 -7.2 -8.7 -10.2 -11.7 -13.2 -14.7 -15.7",
  "215: 7.2 5.7 4.2 2.7 1.2 -0.3 -1.8 -3.3 -4.8 -6.3 -7.8 -9.3 -10.8 -12.3 -13.8 -15.3",
  "217: 7.4 5.9 4.4 2.9 1.4 -0.1 -1.6 -3.1 -4.6 -6.1 -7.6 -9.1 -10.6 -12.1 -13.6 -15",
  "219: 6.6 5.1 3.6 2.1 0.6 -0.9 -2.4 -3.9 -5.4 -6.9 -8.4 -9.9 -11.4 -12.9 -14.4",
  "221: 7 5.5 4 2.5 1 -0.5 -2 -3.5 -5 -6.5 -8 -9.5 -11 -12.5 -14 -15",
  "223: 6.6 5.1 3.6 2.1 0.6 -0.9 -2.4 -3.9 -5.4 -6.9 -8.4 -9.9 -11.4 -12.9 -14.4",
  "225: 6.8 5.3 3.8 2.3 0.8 -0.7 -2.2 -3.7 -5.2 -6.7 -8.2 -9.7 -11.2 -12.7 -14",
  "227: 6.6 5.1 3.6 2.1 0.6 -0.9 -2.4 -3.9 -5.4 -6.9 -8.4 -9.9 -11.4 -12.9 -13.6",
  "229: 6.4 4.9 3.4 1.9 0.4 -1.1 -2.6 -4.1 -5.6 -7.1 -8.6 -10.1 -11.6 -13.1",
  "231: 6.6 5.1 3.6 2.1 0.6 -0.9 -2.4 -3.9 -5.4 -6.9 -8.4 -9.9 -11.4 -12.9 -14.1",
  "233: 7.3 5.8 4.3 2.8 1.3 -0.2 -1.7 -3.2 -4.7 -6.2 -7.7 -9.2 -10.7 -12.2 -13.6",
  "235: 8.8 7.3 5.8 4.3 2.8 1.3 -0.2 -1.7 -3.2 -4.7 -6.2 -7.7 -9.2 -10.7 -12.2",
  "237: 11.2 9.7 8.2 6.7 5.2 3.7 2.2 0.7 -0.8 -2.3 -3.8 -5.3 -6.8 -8.3 -9.8 -11.3 -12.4",
  "239: 13.3 11.8 10.3 8.8 7.3 5.8 4.3 2.8 1.3 -0.2 -1.7 -3.2 -4.7 -6.2 -7.7 -9.2 -10.7 -12.2 -13.3",
  "241: 13.8 12.3 10.8 9.3 7.8 6.3 4.8 3.3 1.8 0.3 -1.2 -2.7 -4.2 -5.5 -9 -12 -13.8",
  "243: 13.7 12.2 10.7 9.2 7.7 6.2 4.7 3.2 1.7 0.2 -1.3 -2.8 -4.3 -5 -7.5",
  "245: 13.4 11.9 10.4 8.9 7.4 5.9 4.4 2.9 1.4 -0.1 -1.6 -3.1 -4.6 -11.5",
  "247: 12.8 11.3 9.8 8.3 6.8 5.3 3.8 2.3 0.8 -0.7 -2.2 -3.7 -5.2 -6 -12",
  "249: 12.2 10.7 9.2 7.7 6.2 4.7 3.2 1.7 0.2 -1.3 -2.8 -4.3 -5.8 -7.3 -10.5",
  "251: 11.6 10.1 8.6 7.1 5.6 4.1 2.6 1.1 -0.4 -1.9 -3.4 -4.9 -6.4 -7.9 -8.5 -13.5",
  "253: 12 10.5 9 7.5 6 4.5 3 1.5 0 -1.5 -3 -4.5 -6 -7.5 -9 -10",
  "255: 11.6 10.1 8.6 7.1 5.6 4.1 2.6 1.1 -0.4 -1.9 -3.4 -4.9 -6.4 -7.9 -9.4 -10.6",
  "257: 10.4 8.9 7.4 5.9 4.4 2.9 1.4 -0.1 -1.6 -3.1 -4.6 -6.1 -7.6 -9.1 -10.6 -11.5",
  "259: 10.2 8.7 7.2 5.7 4.2 2.7 1.2 -0.3 -1.8 -3.3 -4.8 -6.3 -7.8 -9.3 -10.8 -12.3 -12.9",
  "261: 10.4 8.9 7.4 5.9 4.4 2.9 1.4 -0.1 -1.6 -3.1 -4.6 -6.1 -7.6 -9.1 -10.6 -12.1 -13.6 -14.3",
  "263: 10.2 8.7 7.2 5.7 4.2 2.7 1.2 -0.3 -1.8 -3.3 -4.8 -6.3 -7.8 -9.3 -10.8 -12.3 -13.8 -14.6",
  "265: 10.3 8.8 7.3 5.8 4.3 2.8 1.3 -0.2 -1.7 -3.2 -4.7 -6.2 -7.7 -9.2 -10.7 -12.2 -13.7 -15",
  "267: 11.3 9.8 8.3 6.8 5.3 3.8 2.3 0.8 -0.7 -2.2 -3.7 -5.2 -6.7 -8.2 -9.7 -11.2 -12.7 -14.2 -15",
  "269: 11.4 9.9 8.4 6.9 5.4 3.9 2.4 0.9 -0.6 -2.1 -3.6 -5.1 -6.6 -8.1 -9.6 -11.1 -12.6 -13.3",
  "271: 11.3 9.8 8.3 6.8 5.3 3.8 2.3 0.8 -0.7 -2.2 -3.7 -5.2 -6.7 -8.2 -9.7 -11.2 -12.7 -13.8",
  "273: 12.4 10.9 9.4 7.9 6.4 4.9 3.4 1.9 0.4 -1.1 -2.6 -4.1 -5.6 -7.1 -8.6 -10.1 -11.6 -13.1 -14",
  "275: 13.3 11.8 10.3 8.8 7.3 5.8 4.3 2.8 1.3 -0.2 -1.7 -3.2 -4.7 -6.2 -7.7 -9.2 -10.7 -12.2 -13.3",
  "277: 15.4 13.9 12.4 10.9 9.4 7.9 6.4 4.9 3.4 1.9 0.4 -1.1 -2.6 -4.1 -5.6 -7.1 -8.6 -10.1 -11.6 -12.7"
];

// Scattered QCL samples away from the main band: [minute after 17:00, 0.001 ppmv]
const qclScattered = [
  [0.6, 20.2], [2.6, 19], [8.1, 18.4], [-2.4, 17.9], [3.6, 18], [-3.5, 19.5], [-0.5, 18.5],
  [-3.6, 16], [1.5, 16.8], [3, 15.7], [8.6, 15.2], [-3, 15], [1, 14.5], [-2.4, 14], [-1.7, 13.9],
  [-3.6, 13.2], [-2.4, 12.4], [11.6, 12.1], [-1, 11.2], [5.6, 10.8], [1, 10.5], [2.5, 11],
  [4.5, 10.7], [6.5, 11.2], [9, 10.3], [10.5, 9.5], [12.5, 8.2], [3, 8.6], [11, 7.5], [13, 6.5],
  [2, 9.5], [0.5, 8.8], [3.5, 10.2], [4.5, 8.3], [13.6, 3.7], [15.6, 5.3],
  [36.7, 10.9], [38.2, 8.7], [50.3, 12.7], [51.3, 11.7], [60.1, 14.8], [25.5, 6.4], [32.2, 5.6],
  [40.6, 7], [43.6, 7.2], [42.7, 5.3], [44.8, 4.2], [48.7, 3.9], [51.7, 3.4], [60.1, 4.2],
  [63.7, 2.5], [65.8, 0.2], [28, 4.8], [22, 5], [30, 4.2], [34.5, 4.6], [46.5, 5.5], [54, 4.5],
  [56, 3], [58, 2.5],
  [69.7, 12.5], [72.7, 8.3], [69.7, 6], [76.6, 7.6], [77.8, 14.4], [78, 4.9], [83.8, 10.1],
  [87.8, 11.5], [73.5, 3.3], [79.2, 2.7], [65, 0.8], [86, 6.6], [87, 4.8], [67.5, 1.5], [71, 1.8],
  [75.5, 3.5], [81, 4], [83, 5.5], [85, 7.5], [89, 8.5], [91, 9], [93, 8.8],
  [93.8, 16], [93.8, 14], [96.8, 13.8], [100.7, 20], [100.7, 19.2], [101, 18.1], [101.3, 15.4],
  [101.3, 14], [103.3, 13.6], [98, 15.2], [95.5, 15], [108, 20], [111, 19.5], [113, 19.2],
  [109, 18.3], [112, 18], [115, 18.5], [117, 19.9], [118, 18], [110, 17], [114, 16.7], [116, 16.5],
  [119, 17], [120, 15.8], [111, 15.5], [113, 14.5], [117, 14], [119, 13.5], [126.8, 20.5],
  [135, 20.5], [125, 18.9], [132.5, 18.3], [124, 16.5], [128, 16], [134, 16.5], [127.5, 14.8],
  [131, 14.5], [135.5, 14.3], [133, 13.2], [126, 13], [122, 13.5], [97, 11], [99, 10],
  [102, 11.4], [104, 10.5], [96, 9], [97, 8.8], [106, 19], [104, 17.5], [107, 16.5], [105, 15],
  [121, 16.8], [123, 15], [129, 13.3], [130, 12.5], [136, 11.5], [137, 12.5], [107, 18],
  [109, 20.3], [112, 20], [114, 19.8], [116, 18.5], [110, 15], [118, 16], [115, 13.5],
  [99.8, -15.7], [99.8, -17.4], [104.3, -10], [105.2, -11.9], [103.5, -10.2], [123.8, -7.4],
  [124.4, -9], [125.3, -10.8], [126, -12.5], [129, -11], [131, -12.5], [133.8, -15.2],
  [141, -17.8], [145.5, -18.2], [121, -8], [128, -10], [101, -6], [103, -8],
  [14.7, -18.8], [17, -19], [40.6, -19], [12, -17], [25.5, -16.3], [27, -17.5], [29, -18.3],
  [44, -18.8], [53, -19], [22, -18.7], [10, -16.8], [8, -15.6], [6, -13.5], [-2, -10.4],
  [0, -10.3], [-3.4, -10.6],
  [136, 20.3], [136, 14.8], [136, 9.9], [138, 6.4], [145.8, 3.1], [150.9, 7.5], [154.4, 7.1],
  [157.8, 5.8], [159, 14.8], [159, 14], [157, 10.5], [157, 9.7], [161.4, 11.9], [170, 13],
  [169, 8], [166, 7], [171.4, 8.6], [177.4, 8.9], [182.4, 9.1], [182.4, 14], [184.5, 11.3],
  [192, 9.7], [197, 19.5], [197, 16.2], [200, 9.7], [204, 16.5], [204, 11.3], [201, 9.4],
  [204, 8.9], [207, 7.8], [190, 7], [193, 7.5], [196, 6.5], [187, 7.8], [180, 6.5], [175, 6.8],
  [173, 7.5], [164, 5.5], [148, 4], [152, 4.5], [142, 5], [141, 7], [139, 9], [140, 12],
  [138, 15], [139, 18],
  [215.5, 19.8], [218.5, 17.3], [206.5, 13], [206.5, 12.1], [214.6, 11.1], [216, 10.3],
  [218.5, 9.4], [209, 9.4], [211, 8.7], [222.4, 13], [225.4, 12.1], [230.5, 13], [228.4, 11.6],
  [224, 10], [227, 9.3], [231, 9], [234, 10.5], [207, 19.2], [205, 16.6],
  [243.5, 20.1], [244.5, 20], [274.7, 20.1], [275, 19], [274.7, 18.4], [276.5, 19.5],
  [273.5, 17.3], [275.5, 16.2], [275, 14.8], [275, 13.2], [275.5, 11.9], [268.7, 14.6],
  [262.7, 12.7], [266.6, 11.1], [271, 10.2], [274, 9.1], [236.5, 13.2], [239, 12.8],
  [242.5, 12.4], [250.7, 13.2], [254, 12.8], [258.5, 12.1], [246, 15.5], [248, 16], [252, 15],
  [255, 14.5], [260, 13.5], [264, 12.5], [270, 13.5], [272, 15], [240, 16.5], [238, 15],
  [139.8, -17.6], [144.9, -18.2], [160.5, -17.1], [168, -18.4], [172, -17.1], [172.5, -17.9],
  [180, -17.6], [194, -18.4], [203, -16.8], [203, -17.6], [214, -17.6], [217, -18], [220, -18.2],
  [232, -19], [221.5, -16], [239.5, -16.3], [250.7, -16], [261.5, -16], [266.6, -15.5],
  [271.7, -15.2], [150, -17.5], [156, -18.2], [164, -17.5], [176, -17.3], [186, -16.8],
  [190, -17.8], [198, -16.8], [208, -16.8], [226, -15.5], [236, -14.5], [228, -16.8],
  [244, -15.3], [256, -14.8], [258, -16.5], [263, -14.5]
];

// QCL smoothed series: minute after 17:00 and value (0.001 ppmv)
const smoothMinutes = [
  -3.6, -3, -1.5, 0.6, 2.7, 4.5, 7.5, 10.2, 12.6, 14.7, 17.1, 19.5, 22.2, 23.7, 25.5, 27.7, 30,
  32.7, 34.6, 36.7, 39, 41.8, 43.6, 46.3, 48.1, 50.8, 53.8, 55.6, 57.7, 61.3, 63.7, 66, 68.2,
  70.3, 72.7, 75.1, 77.2, 79.3, 81.2, 83.9, 86.3, 88.7, 90.2, 92.3, 94.7, 97.4, 99.2, 101.3,
  102.8, 104.9, 106.4, 108.2, 109.7, 111.2, 112.7, 114.8, 116.9, 118.4, 120.2, 122.3, 124.4,
  125.3, 126.8, 128.3, 129.8, 132.2, 134.4, 135.9, 138, 139.8, 141.9, 144.3, 146.4, 147.9, 150,
  151.8, 154.5, 157.5, 159.9, 162.3, 164.4, 165.9, 168, 170.4, 172.5, 174.9, 176.4, 178.5,
  180.3, 183, 185.5, 187.6, 190, 192.4, 196, 198.1, 199.9, 202, 204.1, 205.9, 208, 210.4, 212.5,
  214.9, 217.6, 218.5, 220, 221.5, 223.6, 225.1, 226.9, 229, 231.4, 234.1, 236.5, 238.6, 240.2,
  242, 243.5, 245, 246.5, 247.7, 248.6, 250.1, 252.5, 253.7, 255.5, 257.6, 259.7, 261.5, 263.6,
  265.1, 266.6, 268.1, 269.6, 272, 274.1, 275.6, 276.5, 278
];
const smoothMilli = [
  3.1, 4.8, 4.8, 6.2, 4.5, 3.9, -0.4, -3.7, -6.5, -6.5, -8.9, -8.1, -7.3, -7.3, -6.1, -6.5, -7.5,
  -7.8, -7.5, -8.4, -7.7, -7.8, -8.6, -8.4, -8.1, -8.6, -9.4, -10.2, -10, -9.7, -11.9, -12.3, -12.6,
  -11.1, -8.9, -8.1, -8.6, -10.2, -9.6, -8.6, -7, -6.1, -4.8, -5.9, -4, -2.4, -0.7, 0.4,
  1.5, 5, 3.9, 5.6, 8.6, 11.1, 12.4, 14.3, 13.2, 10.7, 6.1, 3.4, 2.5,
  1.5, 2.5, 2, 2, 0.9, 0.4, -0.7, -4, -6.5, -7.8, -9.8, -8.4, -8.6, -8.4,
  -7.5, -6.6, -6.5, -7.3, -7.8, -9.2, -7.5, -6.7, -7.3, -6.1, -5.9, -6.7, -5.7,
  -5.1, -6.1, -4.9, -5.9, -5.5, -6.1, -6.1, -4.5, -4.8, -4.3, -3.2, -4.3, -3.5, -5.2, -3.7,
  -3.3, -3, -3.7, -2.9, -4, -3.9, -4.1, -2.9, -3.7, -4.1, -4.8, -4.3, -2.4, -0.7,
  1.5, 2, 3.4, 2.3, 0.8, 1.7, 0.7, 0, -0.2, 2.3, 1.5, 0.7, -0.7, -2,
  -1.1, -0.4, -1.1, -1.6, 2.5, 0.4, 1.5, 4.2, 8
];

// ---- build tables ----
const START = Date.UTC(2016, 7, 30, 17, 0, 0);
const at = m => new Date(START + m * 60000);

const qcl = [];
for (const col of qclColumns) {
  const [head, body] = col.split(":");
  const m = +head;
  for (const v of body.trim().split(/\s+/)) qcl.push({time: at(m), value: +v / 1000});
}
for (const [m, v] of qclScattered) qcl.push({time: at(m), value: v / 1000});

const smooth = smoothMinutes.map((m, i) => ({time: at(m), value: smoothMilli[i] / 1000}));

const xTicks = xTickLabels.map(s => {
  const [h, mm] = s.split(":").map(Number);
  return new Date(Date.UTC(2016, 7, 30, h, mm));
});
const yFormat = d => String(+d.toFixed(3));

// ---- layout ----
const W = 1078, H = 573;
const mL = 136, mR = 5, mT = 17, mB = 73;
const frameW = W - mL - mR, frameH = H - mT - mB;
const FONT = "'Liberation Sans', Arial, Helvetica, sans-serif";
const INK = "#262626";
const GRID = "#dedede";
const DOT = "#cdc9c4";
const BLUE = "#0000ff";
const xStart = at(timeWindowMinutes[0]);

const chart = Plot.plot({
  width: W, height: H,
  marginLeft: mL, marginRight: mR, marginTop: mT, marginBottom: mB,
  style: {fontFamily: FONT, fontSize: "23px", color: INK, background: "#fff", overflow: "visible"},
  x: {type: "utc", domain: [xStart, at(timeWindowMinutes[1])], label: null},
  y: {domain: valueWindow, label: null},
  marks: [
    Plot.gridX(xTicks, {stroke: GRID, strokeOpacity: 1, strokeWidth: 1}),
    Plot.gridY(yTicks, {stroke: GRID, strokeOpacity: 1, strokeWidth: 1}),
    Plot.ruleX([xStart], {stroke: INK, strokeWidth: 1.4}),
    Plot.ruleY([valueWindow[0]], {stroke: INK, strokeWidth: 1.4}),
    Plot.tickX(xTicks, {x: d => d, stroke: INK, strokeWidth: 1.2, insetTop: frameH - 7}),
    Plot.tickY(yTicks, {y: d => d, stroke: INK, strokeWidth: 1.2, insetRight: frameW - 7}),
    Plot.axisX(xTicks, {tickSize: 0, tickPadding: 18, tickFormat: d3.utcFormat("%H:%M"), label: null}),
    Plot.axisY(yTicks, {tickSize: 0, tickPadding: 9, tickFormat: yFormat, label: null}),
    Plot.dot(qcl, {x: "time", y: "value", r: 6.7, fill: DOT, stroke: "none"}),
    Plot.line(smooth, {x: "time", y: "value", stroke: BLUE, strokeWidth: 3.5, strokeLinejoin: "round"})
  ]
});

document.getElementById("chart").appendChild(chart);

// ---- axis title, date stamp and legend ----
const svg = d3.select(chart);

const yTitle = svg.append("text")
  .attr("transform", "translate(33,263) rotate(-90)")
  .attr("text-anchor", "middle")
  .attr("font-family", FONT)
  .attr("font-size", 27)
  .attr("fill", INK);
yTitle.append("tspan").text("CF");
yTitle.append("tspan").attr("font-size", 19).attr("dy", 7).text("4");
yTitle.append("tspan").attr("dy", -7).text(" (ppmv)");

svg.append("text")
  .attr("x", 980).attr("y", 569)
  .attr("text-anchor", "middle")
  .attr("font-family", FONT)
  .attr("font-size", 23)
  .attr("fill", INK)
  .text(dayLabel);

const legend = svg.append("g")
  .attr("font-family", FONT).attr("font-size", 21).attr("fill", "#000")
  .attr("text-anchor", "start");
legend.append("rect")
  .attr("x", 837.5).attr("y", 39.5).attr("width", 196).attr("height", 62)
  .attr("fill", "#fff").attr("stroke", INK).attr("stroke-width", 1);
legend.append("circle").attr("cx", 873).attr("cy", 55).attr("r", 6.7).attr("fill", DOT);
legend.append("text").attr("x", 908).attr("y", 57).attr("dominant-baseline", "central").text("QCL");
legend.append("line")
  .attr("x1", 844).attr("x2", 903).attr("y1", 86).attr("y2", 86)
  .attr("stroke", BLUE).attr("stroke-width", 3.2);
legend.append("text").attr("x", 908).attr("y", 87).attr("dominant-baseline", "central").text("QCL smooth");
</script>
</body>
</html>
